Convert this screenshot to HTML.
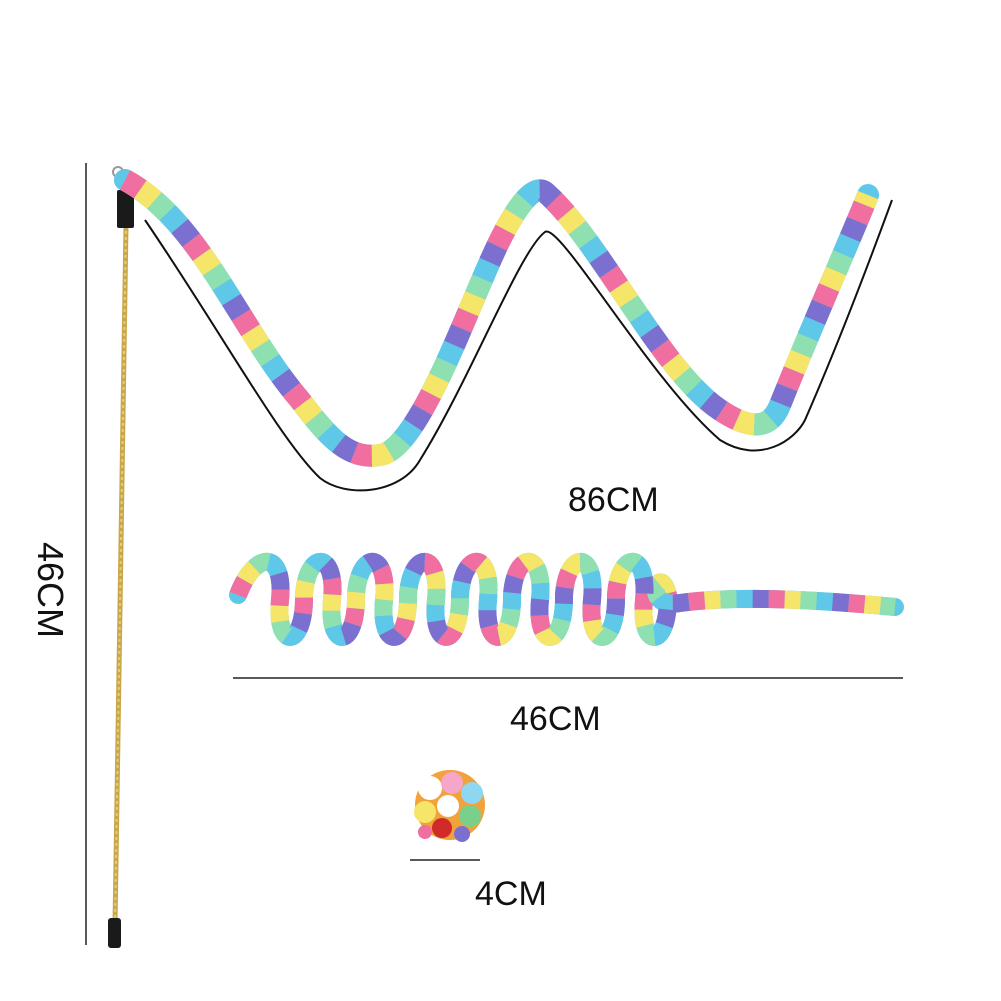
<!DOCTYPE html>
<html><head><meta charset="utf-8"><style>
html,body{margin:0;padding:0;background:#fff;width:1001px;height:1001px;overflow:hidden}
svg{display:block}
text{font-family:"Liberation Sans",sans-serif;fill:#111}
</style></head><body>
<svg id="s" width="1001" height="1001" viewBox="0 0 1001 1001">
<line x1="86" y1="163" x2="86" y2="945" stroke="#222" stroke-width="1.5"/>
<text x="0" y="0" font-size="36" transform="translate(38,542) rotate(90)">46CM</text>
<!-- wand -->
<g>
<line x1="126" y1="225" x2="115" y2="925" stroke="#c8a64a" stroke-width="5"/>
<line x1="126" y1="225" x2="115" y2="925" stroke="#e6cc7a" stroke-width="2" stroke-dasharray="3 3"/>
<rect x="117" y="190" width="17" height="38" rx="2" fill="#1a1a1a"/>
<rect x="108" y="918" width="13" height="30" rx="3" fill="#1a1a1a"/>
<circle cx="118" cy="172" r="5" fill="none" stroke="#999" stroke-width="2"/>
</g>
<!-- outline of wave -->
<path d="M145,220 C220,330 280,440 320,478 C345,498 400,495 420,460 C470,380 520,250 545,232 C560,222 650,380 720,440 C760,465 795,440 805,420 C840,340 870,260 892,200" fill="none" stroke="#111" stroke-width="2"/>
<g id="wave"></g>
<text x="568" y="511" font-size="34">86CM</text>
<g id="coil"></g>
<line x1="233" y1="678" x2="903" y2="678" stroke="#222" stroke-width="1.5"/>
<text x="510" y="730" font-size="34">46CM</text>
<g>
<circle cx="450" cy="805" r="35" fill="#f2a23a"/>
<circle cx="430" cy="788" r="12" fill="#fff"/>
<circle cx="452" cy="783" r="11" fill="#f6a6c8"/>
<circle cx="472" cy="793" r="11" fill="#8fd7f0"/>
<circle cx="425" cy="812" r="11" fill="#f5e66a"/>
<circle cx="448" cy="806" r="11" fill="#fff"/>
<circle cx="470" cy="816" r="11" fill="#7ad08a"/>
<circle cx="442" cy="828" r="10" fill="#d02a2a"/>
<circle cx="462" cy="834" r="8" fill="#7b6fd0"/>
<circle cx="425" cy="832" r="7" fill="#f06ea0"/>
</g>
<line x1="410" y1="860" x2="480" y2="860" stroke="#222" stroke-width="1.5"/>
<text x="475" y="905" font-size="34">4CM</text>
</svg>
<script>
const NS="http://www.w3.org/2000/svg";
const colors=["#f06ea0","#f5e66a","#8fe0b0","#5fc8e8","#7b6fd0"];
function rainbow(g,d,w,seg){
  const base=document.createElementNS(NS,"path");
  base.setAttribute("d",d);base.setAttribute("fill","none");
  base.setAttribute("stroke","#5fc8e8");base.setAttribute("stroke-width",w);
  base.setAttribute("stroke-linecap","round");base.setAttribute("stroke-linejoin","round");
  g.appendChild(base);
  colors.forEach((c,i)=>{
    const p=document.createElementNS(NS,"path");
    
    
    p.setAttribute("d",d);p.setAttribute("fill","none");
    p.setAttribute("stroke",c);p.setAttribute("stroke-width",w);
    p.setAttribute("stroke-dasharray",seg+" "+(seg*4));
    p.setAttribute("stroke-dashoffset",-seg*i);
    g.appendChild(p);
  });
}
rainbow(document.getElementById("wave"),
 "M125,180 C200,220 240,330 300,400 C330,440 350,460 380,455 C420,450 470,300 500,240 C520,200 535,185 545,192 C600,240 660,370 720,410 C750,430 770,430 780,405 C810,330 850,240 868,195",
 22,18);
let d="M238,595";
const cx0=250, per=52, n=8;
for(let i=0;i<n;i++){
  const x=cx0+i*per;
  d+=` C${x+5},550 ${x+35},550 ${x+30},600 C${x+25},650 ${x+55},650 ${x+per+2},595`;
}
d+=" C660,560 640,610 680,603 C740,595 820,600 895,607";
rainbow(document.getElementById("coil"),d,18,16);
</script>
</body></html>
